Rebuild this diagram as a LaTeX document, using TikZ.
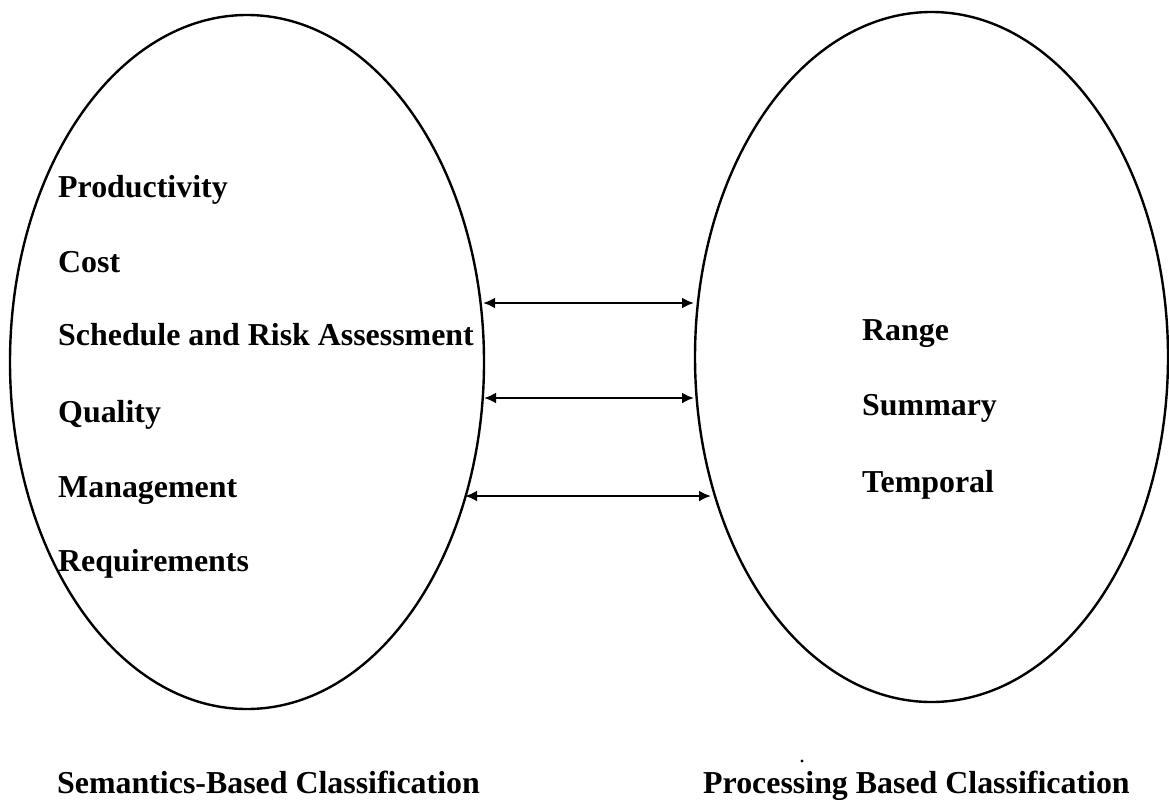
\documentclass[tikz,border=0pt]{standalone}
\usepackage{fontspec}
\setmainfont{Liberation Serif}
\usetikzlibrary{shapes.geometric,arrows.meta}
\begin{document}
\begin{tikzpicture}[x=1pt,y=-1pt,
  oval/.style={draw,line width=2.4pt,ellipse,inner sep=0pt,outer sep=0pt},
  item/.style={anchor=base west,inner sep=0pt,font=\fontsize{31.9}{38}\selectfont\bfseries},
  link/.style={line width=2.4pt,{Latex[length=12pt,width=11pt]}-{Latex[length=12pt,width=11pt]}}]
\useasboundingbox (0,0) rectangle (1169,806);
\fill[white] (0,0) rectangle (1169,806);
\node[oval,minimum width=474pt,minimum height=694pt] (L) at (247,362) {};
\node[oval,minimum width=473pt,minimum height=690pt] (R) at (931.5,357) {};
\node[item] (p1) at (58,197) {Productivity};
\node[item] (p2) at (58,272) {Cost};
\node[item] (p3) at (58,345) {Schedule and Risk Assessment};
\node[item] (p4) at (58,422) {Quality};
\node[item] (p5) at (58,497) {Management};
\node[item] (p6) at (58,571) {Requirements};
\node[item] (q1) at (862,340) {Range};
\node[item] (q2) at (862,415) {Summary};
\node[item] (q3) at (862,492) {Temporal};
\node[item] (lab1) at (57,793) {Semantics-Based Classification};
\node[item] (lab2) at (703,793) {Processing Based Classification};
\fill (802,761) circle (1.6pt);
\coordinate (a1l) at (483,303);
\coordinate (a1r) at (694,303);
\coordinate (a2l) at (484,398);
\coordinate (a2r) at (694,398);
\coordinate (a3l) at (465,496);
\coordinate (a3r) at (711,496);
\draw[link] (a1l) -- (a1r);
\draw[link] (a2l) -- (a2r);
\draw[link] (a3l) -- (a3r);
\end{tikzpicture}
\end{document}
